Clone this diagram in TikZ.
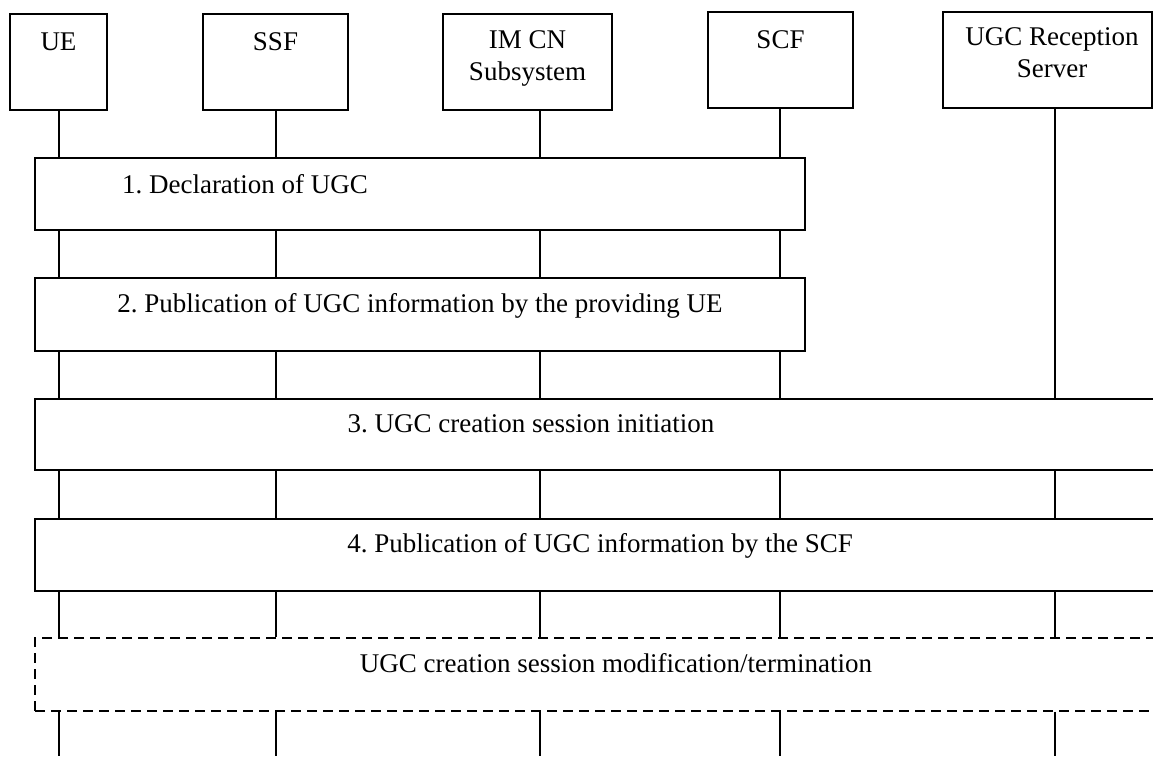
\documentclass[tikz,border=0pt]{standalone}
\usepackage{fontspec}
\setmainfont{Liberation Serif}
\frenchspacing
\begin{document}
\begin{tikzpicture}[x=1pt,y=-1pt,
  every node/.style={font=\fontsize{27}{32}\selectfont},
  hdr/.style={draw,line width=1.5pt,inner sep=0pt},
  stepbox/.style={draw,line width=1.5pt,inner sep=0pt,minimum height=72pt},
  dashbox/.style={draw,line width=1.5pt,inner sep=0pt,minimum height=73pt,dash pattern=on 10pt off 6pt},
  txt/.style={inner sep=0pt,anchor=base},
  txtn/.style={inner sep=0pt,anchor=north,align=center},
  life/.style={line width=1.5pt}]
\useasboundingbox (0,0) rectangle (1153,756);
% header boxes
\node[hdr,minimum width=97pt,minimum height=96pt] (ue) at (58.5,62) {};
\node[hdr,minimum width=145pt,minimum height=96pt] (ssf) at (275.5,62) {};
\node[hdr,minimum width=169pt,minimum height=96pt] (imcn) at (527.5,62) {};
\node[hdr,minimum width=145pt,minimum height=96pt] (scf) at (780.5,60) {};
\node[hdr,minimum width=209pt,minimum height=96pt] (ugc) at (1047.5,60) {};
\node[txt] (uet) at (58.5,50) {UE};
\node[txt] (ssft) at (275.5,50) {SSF};
\node[txtn] (imcnt) at (527.5,30) {IM CN\\Subsystem};
\node[txtn] (ugct) at (1052,27) {UGC Reception\\Server};
\node[txt] (scft) at (780.5,48) {SCF};
% step boxes
\node[stepbox,minimum width=770pt] (s1) at (420,194) {};
\node[stepbox,minimum width=770pt,minimum height=73pt] (s2) at (420,314.5) {};
\node[stepbox,minimum width=1140pt,minimum height=71pt] (s3) at (605,434.5) {};
\node[stepbox,minimum width=1140pt] (s4) at (605,555) {};
\node[dashbox,minimum width=1140pt] (s5) at (605,674.5) {};
\node[txt] (s1t) at (245,193) {1. Declaration of UGC};
\node[txt] (s2t) at (420,312) {2. Publication of UGC information by the providing UE};
\node[txt] (s3t) at (531,432) {3. UGC creation session initiation};
\node[txt] (s4t) at (600,552) {4. Publication of UGC information by the SCF};
\node[txt] (s5t) at (616,672) {UGC creation session modification/termination};
% lifeline x positions
\coordinate (x1) at (59,0);
\coordinate (x2) at (276,0);
\coordinate (x3) at (540,0);
\coordinate (x4) at (780,0);
\coordinate (x5) at (1055,0);
\coordinate (bot) at (0,756);
% lifelines
\foreach \x/\h in {x1/ue,x2/ssf,x3/imcn,x4/scf}{
  \draw[life] (\x |- \h.south) -- (\x |- s1.north);
  \draw[life] (\x |- s1.south) -- (\x |- s2.north);
  \draw[life] (\x |- s2.south) -- (\x |- s3.north);
}
\draw[life] (x5 |- ugc.south) -- (x5 |- s3.north);
\foreach \x in {x1,x2,x3,x4,x5}{
  \draw[life] (\x |- s3.south) -- (\x |- s4.north);
  \draw[life] (\x |- s4.south) -- (\x |- s5.north);
  \draw[life] (\x |- s5.south) -- (\x |- bot);
}
\end{tikzpicture}
\end{document}
